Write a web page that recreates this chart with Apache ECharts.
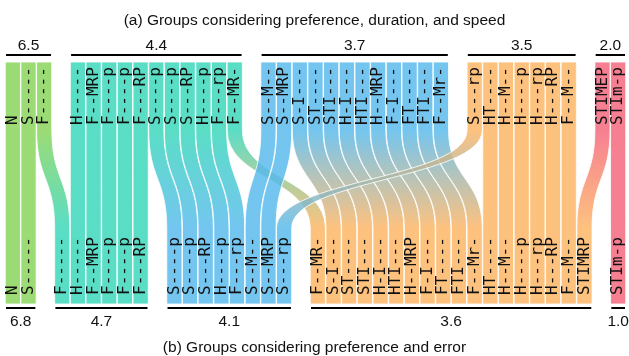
<!DOCTYPE html>
<html>
<head>
<meta charset="utf-8">
<script src="https://cdn.jsdelivr.net/npm/echarts@6/dist/echarts.min.js"></script>
<style>
  html, body { margin: 0; padding: 0; background: #fff; }
  #chart { width: 629px; height: 356px; }
</style>
</head>
<body>
<div id="chart"></div>
<script>
// Top row: groups by preference, duration and speed (mean score per group)
const topGroupMeans = [6.5, 4.4, 3.7, 3.5, 2.0];
const topGroupLabels = [
  ['N', 'S-----', 'F-----'],
  ['H-----', 'F--MRP', 'F----p', 'F----p', 'F---RP', 'S----p', 'S----p', 'S---RP', 'H----p', 'F---rp', 'F--MR-'],
  ['S--M--', 'S--MRP', 'S-I---', 'ST----', 'STI---', 'H-I---', 'HTI---', 'H--MRP', 'F-I---', 'FT----', 'FTI---', 'F--Mr-'],
  ['S---rp', 'HT----', 'H--M--', 'H----p', 'H---rp', 'H---RP', 'F--M--'],
  ['STIMEP', 'STIm-p']
];

// Bottom row: groups by preference and error
const bottomGroupMeans = [6.8, 4.7, 4.1, 3.6, 1.0];
const bottomGroupLabels = [
  ['N', 'S-----'],
  ['F-----', 'H-----', 'F--MRP', 'F----p', 'F----p', 'F---RP'],
  ['S----p', 'S----p', 'S---RP', 'H----p', 'F---rp', 'S--M--', 'S--MRP', 'S---rp'],
  ['F--MR-', 'S-I---', 'ST----', 'STI---', 'H-I---', 'HTI---', 'H--MRP', 'F-I---', 'FT----', 'FTI---', 'F--Mr-',
   'HT----', 'H--M--', 'H----p', 'H---rp', 'H---RP', 'F--M--', 'STIMRP'],
  ['STIm-p']
];

const groupColors = ['#86d356', '#36d6b9', '#55b9ec', '#fdb462', '#f4647a'];

const titles = [
  '(a) Groups considering preference, duration, and speed',
  '(b) Groups considering preference and error'
];

// ---- layout helpers -------------------------------------------------------
const GAP = 1.15;            // blank space between neighbouring groups, in column widths
const Y_TOP = 62;            // top of the upper columns
const Y_BEND_TOP = 130;      // where ribbons leave the upper column
const Y_BEND_BOT = 228;      // where ribbons enter the lower column
const Y_BOT = 304;           // bottom of the lower columns
const TOP_LABEL_Y = 125;
const BOT_LABEL_Y = 295;

function slotsFor(groups) {
  let pos = 0;
  return groups.map(g => {
    const start = pos;
    pos += g.length + GAP;
    return g.map((_, i) => start + i);
  });
}
const topSlots = slotsFor(topGroupLabels);
const bottomSlots = slotsFor(bottomGroupLabels);
const totalUnits = topGroupLabels.reduce((s, g) => s + g.length, 0) + GAP * (topGroupLabels.length - 1);

// pair each upper strategy with the same strategy in the lower row
const bottomItems = [];
bottomGroupLabels.forEach((g, gi) => g.forEach((label, i) =>
  bottomItems.push({ label, group: gi, slot: bottomSlots[gi][i], used: false })));
const links = [];
topGroupLabels.forEach((g, gi) => g.forEach((label, i) => {
  const b = bottomItems.find(it => !it.used && it.label === label);
  if (b) b.used = true;
  links.push({ label, group: gi, slot: topSlots[gi][i], bottom: b || null });
}));
// codes spelled differently in the two rows are paired in order
const spare = bottomItems.filter(it => !it.used);
links.filter(l => !l.bottom).forEach((l, k) => { l.bottom = spare[k]; spare[k].used = true; });

// group brackets (line + mean) for both rows
const brackets = [];
topGroupLabels.forEach((g, gi) => brackets.push({
  row: 0, start: topSlots[gi][0], end: topSlots[gi][g.length - 1] + 1, mean: topGroupMeans[gi]
}));
bottomGroupLabels.forEach((g, gi) => brackets.push({
  row: 1, start: bottomSlots[gi][0], end: bottomSlots[gi][g.length - 1] + 1, mean: bottomGroupMeans[gi]
}));

const MONO = '16px "DejaVu Sans Mono", monospace';
const SANS = '"Liberation Sans", Arial, Helvetica, sans-serif';

function renderLink(params, api) {
  const l = links[params.dataIndex];
  const a = api.value(0), b = api.value(1);
  const xa = api.coord([a, Y_TOP])[0], xb = api.coord([a + 1, Y_TOP])[0];
  const xc = api.coord([b, Y_BOT])[0], xd = api.coord([b + 1, Y_BOT])[0];
  const yTop = api.coord([0, Y_TOP])[1];
  const y0 = api.coord([0, Y_BEND_TOP])[1];
  const y1 = api.coord([0, Y_BEND_BOT])[1];
  const yBot = api.coord([0, Y_BOT])[1];
  const k = (y1 - y0) * 0.5;
  const inset = 0.25;
  const L0 = xa + inset, R0 = xb - inset, L1 = xc + inset, R1 = xd - inset;
  const d = `M${L0},${yTop} L${R0},${yTop} L${R0},${y0} ` +
            `C${R0},${y0 + k} ${R1},${y1 - k} ${R1},${y1} L${R1},${yBot} L${L1},${yBot} L${L1},${y1} ` +
            `C${L1},${y1 - k} ${L0},${y0 + k} ${L0},${y0} Z`;
  const fill = new echarts.graphic.LinearGradient(0, y0, 0, y1, [
    { offset: 0, color: groupColors[l.group] },
    { offset: 1, color: groupColors[l.bottom.group] }
  ], true);
  return {
    type: 'group',
    children: [
      {
        type: 'path',
        shape: { pathData: d },
        style: { fill, stroke: '#fff', lineWidth: 1, opacity: 0.82 }
      },
      {
        type: 'text',
        x: (xa + xb) / 2, y: api.coord([0, TOP_LABEL_Y])[1], rotation: Math.PI / 2,
        style: { text: l.label, font: MONO, fill: '#111', align: 'left', verticalAlign: 'middle' }
      },
      {
        type: 'text',
        x: (xc + xd) / 2, y: api.coord([0, BOT_LABEL_Y])[1], rotation: Math.PI / 2,
        style: { text: l.bottom.label, font: MONO, fill: '#111', align: 'left', verticalAlign: 'middle' }
      }
    ]
  };
}

function renderBracket(params, api) {
  const br = brackets[params.dataIndex];
  const lineY = br.row === 0 ? 55 : 308;
  const textY = br.row === 0 ? 46 : 322;
  const x0 = api.coord([api.value(0), lineY])[0] + 1;
  const x1 = api.coord([api.value(1), lineY])[0] - 1;
  const y = api.coord([0, lineY])[1];
  return {
    type: 'group',
    children: [
      { type: 'line', shape: { x1: x0, y1: y, x2: x1, y2: y }, style: { stroke: '#000', lineWidth: 2 } },
      {
        type: 'text', x: (x0 + x1) / 2, y: api.coord([0, textY])[1],
        style: { text: br.mean.toFixed(1), font: '15.5px ' + SANS, fill: '#111', align: 'center', verticalAlign: 'middle' }
      }
    ]
  };
}

const chart = echarts.init(document.getElementById('chart'), null, { renderer: 'canvas' });
chart.setOption({
  backgroundColor: '#fff',
  animation: false,
  title: [
    { text: titles[0], left: 'center', top: 8, textStyle: { fontFamily: SANS, fontSize: 15.5, fontWeight: 'normal', color: '#111' } },
    { text: titles[1], left: 'center', top: 335, textStyle: { fontFamily: SANS, fontSize: 15.5, fontWeight: 'normal', color: '#111' } }
  ],
  grid: { left: 5, right: 3, top: 0, bottom: 0 },
  xAxis: { type: 'value', min: 0, max: totalUnits, show: false },
  yAxis: { type: 'value', min: 0, max: 356, inverse: true, show: false },
  series: [
    {
      type: 'custom',
      renderItem: renderLink,
      data: links.map(l => [l.slot, l.bottom.slot]),
      silent: true
    },
    {
      type: 'custom',
      renderItem: renderBracket,
      data: brackets.map(b => [b.start, b.end]),
      silent: true
    }
  ]
});
</script>
</body>
</html>
